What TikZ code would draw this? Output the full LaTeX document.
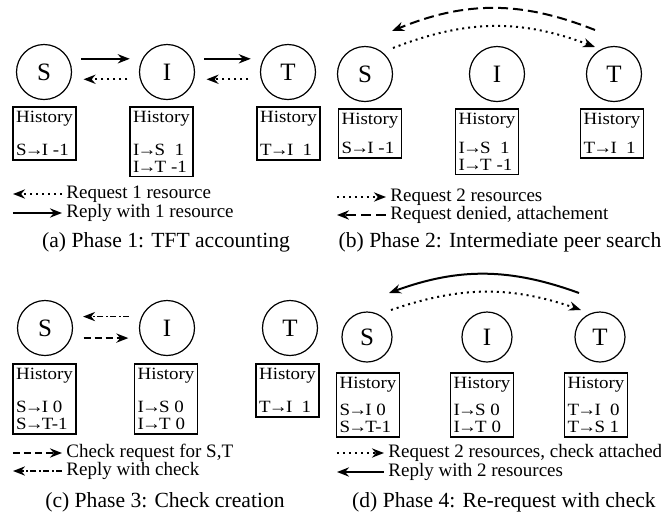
\documentclass[tikz,border=0pt]{standalone}
\usepackage{fontspec}
\setmainfont{Liberation Serif}
\newfontfamily\histfont[FakeStretch=1.1]{Liberation Serif}
\newcommand{\hto}{\kern-0.9pt→\kern-0.9pt}
\usetikzlibrary{arrows.meta}
\begin{document}
\begin{tikzpicture}[x=0.5pt,y=-0.5pt]
\tikzstyle{peer}=[draw, circle, line width=0.6pt, minimum size=27.5pt, inner sep=0pt, font=\fontsize{12.5}{12.5}\selectfont]
\tikzstyle{history}=[draw, rectangle, line width=0.8pt, anchor=north, align=left, inner xsep=1.5pt, inner ysep=2.2pt, font=\histfont\fontsize{8.6}{8.4}\selectfont]
\tikzstyle{legend}=[anchor=west, inner sep=1pt, font=\fontsize{9.5}{10}\selectfont]
\tikzstyle{caption}=[font=\fontsize{10.8}{12}\selectfont]
\tikzstyle{reply}=[draw, -{Stealth[length=6pt,width=4.6pt]}, line width=1pt]
\tikzstyle{request}=[reply, dash pattern=on 1pt off 2pt]
\tikzstyle{denied}=[reply, dash pattern=on 5pt off 2.5pt]
\tikzstyle{check}=[reply, dash pattern=on 3.5pt off 2pt]
\tikzstyle{checkreply}=[reply, line width=0.8pt, dash pattern=on 3pt off 1.2pt on 1pt off 1.2pt]
\tikzstyle{gap}=[shorten <=6.2pt, shorten >=6.2pt]
\useasboundingbox (0,0) rectangle (661,521);

% Phase 1
\node[peer] (sa) at (44,72) {S};
\node[peer] (ia) at (167,72) {I};
\node[peer] (ta) at (288,72) {T};
\draw[reply, gap] (sa.28) -- (ia.152);
\draw[request, gap] (ia.195) -- (sa.-15);
\draw[reply, gap] (ia.28) -- (ta.152);
\draw[request, gap] (ta.195) -- (ia.-15);
\node[history] (hsa) at (44.5,106) {History\\[8pt]S\hto I -1};
\node[history] (hia) at (161.5,106) {History\\[8pt]I\hto S\ \ 1\\I\hto T -1};
\node[history] (hta) at (288.5,106) {History\\[8pt]T\hto I\ \ 1};
\node[legend] (la1) at (64,194) {Request 1 resource};
\node[legend] (la2) at (64,213) {Reply with 1 resource};
\coordinate (ka1) at (13,194);
\coordinate (ka2) at (13,213);
\draw[request, shorten <=1pt] (la1.west) -- (ka1);
\draw[reply, shorten >=1pt] (ka2) -- (la2.west);
\node[caption] (capa) at (166,242) {(a) Phase 1: TFT accounting};

% Phase 2
\node[peer] (sb) at (365,74) {S};
\node[peer] (ib) at (497,74) {I};
\node[peer] (tb) at (614,74) {T};
\coordinate (tb1) at ([shift={(-19,-44)}]tb.center);
\coordinate (sb1) at ([shift={(27,-43)}]sb.center);
\coordinate (sb2) at ([shift={(28,-26)}]sb.center);
\coordinate (tb2) at ([shift={(-19,-27)}]tb.center);
\draw[denied] (tb1) to[bend right=22] (sb1);
\draw[request] (sb2) to[bend left=21] (tb2);
\node[history] (hsb) at (370,108) {History\\[6pt]S\hto I -1};
\node[history] (hib) at (487,108) {History\\[6pt]I\hto S\ \ 1\\I\hto T -1};
\node[history] (htb) at (612,108) {History\\[6pt]T\hto I\ \ 1};
\node[legend] (lb1) at (388,197) {Request 2 resources};
\node[legend] (lb2) at (388,215) {Request denied, attachement};
\coordinate (kb1) at (337,197);
\coordinate (kb2) at (337,215);
\draw[request, shorten >=1pt] (kb1) -- (lb1.west);
\draw[denied, shorten <=1pt] (lb2.west) -- (kb2);
\node[caption] (capb) at (500,242) {(b) Phase 2: Intermediate peer search};

% Phase 3
\node[peer] (sc) at (45,328) {S};
\node[peer] (ic) at (167,328) {I};
\node[peer] (tc) at (290,328) {T};
\draw[checkreply, gap] (ic.156) -- (sc.24);
\draw[check, gap] (sc.-21) -- (ic.201);
\node[history] (hsc) at (44.5,363) {History\\[8pt]S\hto I 0\\S\hto T-1};
\node[history] (hic) at (166,363) {History\\[8pt]I\hto S 0\\I\hto T 0};
\node[history] (htc) at (287.5,363) {History\\[8pt]T\hto I\ \ 1};
\node[legend] (lc1) at (64,453) {Check request for S,T};
\node[legend] (lc2) at (64,471) {Reply with check};
\coordinate (kc1) at (13,453);
\coordinate (kc2) at (13,471);
\draw[check, shorten >=1pt] (kc1) -- (lc1.west);
\draw[checkreply, shorten <=1pt] (lc2.west) -- (kc2);
\node[caption] (capc) at (165,502) {(c) Phase 3: Check creation};

% Phase 4
\node[peer, minimum size=25pt] (sd) at (367,337) {S};
\node[peer, minimum size=25pt] (id) at (487,337) {I};
\node[peer, minimum size=25pt] (td) at (600,337) {T};
\coordinate (td1) at ([shift={(-21,-44)}]td.center);
\coordinate (sd1) at ([shift={(22,-44)}]sd.center);
\coordinate (sd2) at ([shift={(24,-27)}]sd.center);
\coordinate (td2) at ([shift={(-19,-27)}]td.center);
\draw[reply] (td1) to[bend right=20] (sd1);
\draw[request] (sd2) to[bend left=19] (td2);
\node[history] (hsd) at (368,372) {History\\[5pt]S\hto I 0\\S\hto T-1};
\node[history] (hid) at (482,372) {History\\[5pt]I\hto S 0\\I\hto T 0};
\node[history] (htd) at (596,372) {History\\[5pt]T\hto I\ \ 0\\T\hto S 1};
\node[legend] (ld1) at (386,453) {Request 2 resources, check attached};
\node[legend] (ld2) at (386,472) {Reply with 2 resources};
\coordinate (kd1) at (337,453);
\coordinate (kd2) at (337,472);
\draw[request, shorten >=1pt] (kd1) -- (ld1.west);
\draw[reply, shorten <=1pt] (ld2.west) -- (kd2);
\node[caption] (capd) at (504,502) {(d) Phase 4: Re-request with check};
\end{tikzpicture}
\end{document}
